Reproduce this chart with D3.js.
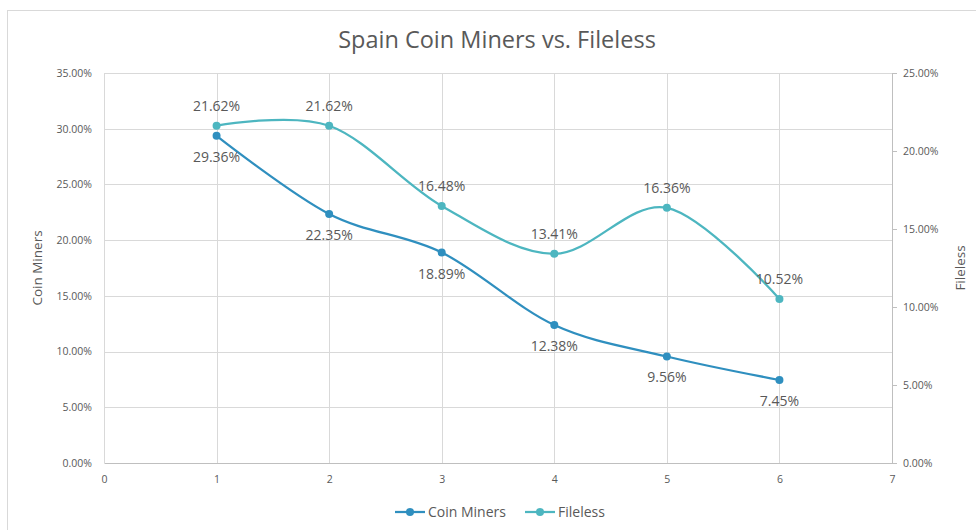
<!DOCTYPE html>
<html>
<head>
<meta charset="utf-8">
<script src="https://cdn.jsdelivr.net/npm/d3@7"></script>
<style>
  body { margin: 0; background: #fff; }
  text { font-family: "Open Sans", "Liberation Sans", sans-serif; }
</style>
</head>
<body>
<div id="chart"></div>
<script>
'use strict'

// data
const xValues = [1, 2, 3, 4, 5, 6]
const coinMiners = [29.36, 22.35, 18.89, 12.38, 9.56, 7.45]
const fileless = [21.62, 21.62, 16.48, 13.41, 16.36, 10.52]
const leftTicks = [0, 5, 10, 15, 20, 25, 30, 35]
const rightTicks = [0, 5, 10, 15, 20, 25]
const xTicks = [0, 1, 2, 3, 4, 5, 6, 7]

const svgWidth = 976
const svgHeight = 530
const margin = { left: 104, right: 84, top: 73, bottom: 67 }
const width = svgWidth - margin.left - margin.right
const height = svgHeight - margin.top - margin.bottom

const colorCoin = '#2f8fbf'
const colorFile = '#4db6c0'
const textColor = '#595959'

const svg = d3.select('#chart').append('svg')
    .attr('width', svgWidth)
    .attr('height', svgHeight)

// chart frame
svg.append('rect')
    .attr('x', 7.5).attr('y', 10.5)
    .attr('width', svgWidth).attr('height', svgHeight)
    .attr('fill', 'none')
    .attr('stroke', '#d9d9d9')

const g = svg.append('g')
    .attr('transform', `translate(${margin.left},${margin.top})`)

// scales
const x = d3.scaleLinear().domain([0, 7]).range([0, width])
const yLeft = d3.scaleLinear().domain([0, 35]).range([height, 0])
const yRight = d3.scaleLinear().domain([0, 25]).range([height, 0])

// gridlines
g.selectAll('.hgrid').data(leftTicks.slice(1))
    .join('line')
    .attr('x1', 0).attr('x2', width)
    .attr('y1', d => Math.round(yLeft(d)) + 0.5)
    .attr('y2', d => Math.round(yLeft(d)) + 0.5)
    .attr('stroke', '#d9d9d9')

g.selectAll('.vgrid').data(xTicks)
    .join('line')
    .attr('x1', d => Math.round(x(d)) + 0.5)
    .attr('x2', d => Math.round(x(d)) + 0.5)
    .attr('y1', 0).attr('y2', height)
    .attr('stroke', '#d9d9d9')

// x axis
const xAxis = g.append('g')
    .attr('transform', `translate(0,${height})`)
    .call(d3.axisBottom(x).tickValues(xTicks).tickSize(0).tickPadding(13).tickFormat(d3.format('d')))
xAxis.select('.domain').attr('stroke', '#bfbfbf')

// left axis
const yAxisL = g.append('g')
    .call(d3.axisLeft(yLeft).tickValues(leftTicks).tickSize(0).tickPadding(12).tickFormat(d => d.toFixed(2) + '%'))
yAxisL.select('.domain').remove()

// right axis
const yAxisR = g.append('g')
    .attr('transform', `translate(${width},0)`)
    .call(d3.axisRight(yRight).tickValues(rightTicks).tickSize(5).tickPadding(6).tickSizeOuter(0).tickFormat(d => d.toFixed(2) + '%'))
yAxisR.select('.domain').attr('stroke', '#bfbfbf')
yAxisR.selectAll('.tick line').attr('stroke', '#bfbfbf')

svg.selectAll('.tick text')
    .attr('fill', textColor)
    .style('font-size', '10.5px')

// title
svg.append('text')
    .attr('x', 497).attr('y', 48)
    .attr('text-anchor', 'middle')
    .attr('fill', textColor)
    .style('font-size', '23.5px')
    .text('Spain Coin Miners vs. Fileless')

// axis titles
svg.append('text')
    .attr('transform', `translate(42,${margin.top + height / 2}) rotate(-90)`)
    .attr('text-anchor', 'middle')
    .attr('fill', textColor)
    .style('font-size', '13.5px')
    .text('Coin Miners')

svg.append('text')
    .attr('transform', `translate(965,${margin.top + height / 2}) rotate(-90)`)
    .attr('text-anchor', 'middle')
    .attr('fill', textColor)
    .style('font-size', '13.5px')
    .text('Fileless')

// lines
const curve = d3.curveCardinal.tension(0)
const lineLeft = d3.line().x((d, i) => x(xValues[i])).y(d => yLeft(d)).curve(curve)
const lineRight = d3.line().x((d, i) => x(xValues[i])).y(d => yRight(d)).curve(curve)

g.append('path').datum(fileless)
    .attr('d', lineRight)
    .attr('fill', 'none')
    .attr('stroke', colorFile)
    .attr('stroke-width', 2.25)

g.append('path').datum(coinMiners)
    .attr('d', lineLeft)
    .attr('fill', 'none')
    .attr('stroke', colorCoin)
    .attr('stroke-width', 2.25)

g.selectAll('.ptFile').data(fileless)
    .join('circle')
    .attr('cx', (d, i) => x(xValues[i]))
    .attr('cy', d => yRight(d))
    .attr('r', 4)
    .attr('fill', colorFile)

g.selectAll('.ptCoin').data(coinMiners)
    .join('circle')
    .attr('cx', (d, i) => x(xValues[i]))
    .attr('cy', d => yLeft(d))
    .attr('r', 4)
    .attr('fill', colorCoin)

// data labels
g.selectAll('.lblFile').data(fileless)
    .join('text')
    .attr('x', (d, i) => x(xValues[i]))
    .attr('y', d => yRight(d) - 15)
    .attr('text-anchor', 'middle')
    .attr('fill', '#595959')
    .style('font-size', '14px')
    .text(d => d.toFixed(2) + '%')

g.selectAll('.lblCoin').data(coinMiners)
    .join('text')
    .attr('x', (d, i) => x(xValues[i]))
    .attr('y', d => yLeft(d) + 26)
    .attr('text-anchor', 'middle')
    .attr('fill', '#595959')
    .style('font-size', '14px')
    .text(d => d.toFixed(2) + '%')

// legend
const legendItems = [
    { name: 'Coin Miners', color: colorCoin, x: 395 },
    { name: 'Fileless', color: colorFile, x: 525 }
]
const legend = svg.append('g').attr('transform', 'translate(0,512)')
legendItems.forEach(item => {
    legend.append('line')
        .attr('x1', item.x).attr('x2', item.x + 30)
        .attr('y1', 0).attr('y2', 0)
        .attr('stroke', item.color)
        .attr('stroke-width', 2.25)
    legend.append('circle')
        .attr('cx', item.x + 15).attr('cy', 0).attr('r', 4)
        .attr('fill', item.color)
    legend.append('text')
        .attr('x', item.x + 33).attr('y', 5)
        .attr('fill', textColor)
        .style('font-size', '14px')
        .text(item.name)
})
</script>
</body>
</html>
